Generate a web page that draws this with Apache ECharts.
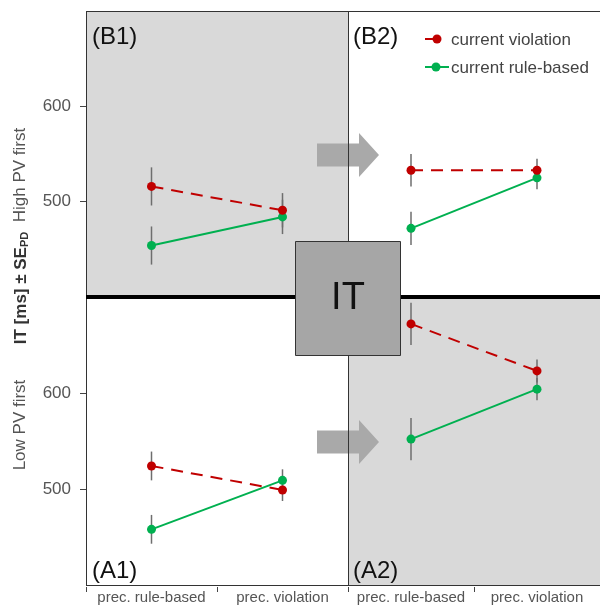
<!DOCTYPE html>
<html>
<head>
<meta charset="utf-8">
<script src="https://cdn.jsdelivr.net/npm/echarts@6/dist/echarts.min.js"></script>
<style>
  html, body { margin: 0; padding: 0; background: #fff; }
  #chart { width: 600px; height: 613px; }
</style>
</head>
<body>
<div id="chart"></div>
<script>
// Categories and labels
const categories = ['prec. rule-based', 'prec. violation'];
const seriesNames = ['current violation', 'current rule-based'];
const panelNames = ['(B1)', '(B2)', '(A1)', '(A2)'];
const rowNames = ['High PV first', 'Low PV first'];
const yTickValues = [500, 600];

// Mean IT [ms] per panel: B1 (top left), B2 (top right), A1 (bottom left), A2 (bottom right)
const violationB1 = [516, 491];
const violationB2 = [533, 533];
const violationA1 = [524, 499];
const violationA2 = [672, 623];
const ruleB1 = [454, 484];
const ruleB2 = [472, 525];
const ruleA1 = [458, 509];
const ruleA2 = [552, 604];

// Standard errors (paired differences)
const violationSeB1 = [20, 18];
const violationSeB2 = [17, 12];
const violationSeA1 = [15, 11.5];
const violationSeA2 = [22, 12];
const ruleSeB1 = [20, 18];
const ruleSeB2 = [17.5, 12];
const ruleSeA1 = [15, 11.5];
const ruleSeA2 = [22, 11.5];

const RED = '#c00000';
const GREEN = '#00b050';
const FONT = '"Liberation Sans", Arial, Helvetica, sans-serif';

const panels = [
  { viol: violationB1, rule: ruleB1, vSe: violationSeB1, rSe: ruleSeB1 },
  { viol: violationB2, rule: ruleB2, vSe: violationSeB2, rSe: ruleSeB2 },
  { viol: violationA1, rule: ruleA1, vSe: violationSeA1, rSe: ruleSeA1 },
  { viol: violationA2, rule: ruleA2, vSe: violationSeA2, rSe: ruleSeA2 }
];

// Panel layout
const L = 86, MID = 348, PW = 262, TOP = 11, HMID = 297, BOT = 585;
const grids = [
  { left: L,   top: TOP,  width: PW, height: HMID - TOP, bg: '#d9d9d9' },
  { left: MID, top: TOP,  width: PW, height: HMID - TOP, bg: '#ffffff' },
  { left: L,   top: HMID, width: PW, height: BOT - HMID, bg: '#ffffff' },
  { left: MID, top: HMID, width: PW, height: BOT - HMID, bg: '#d9d9d9' }
];

const grid = grids.map(g => ({
  left: g.left, top: g.top, width: g.width, height: g.height,
  show: true, backgroundColor: g.bg, borderWidth: 0, containLabel: false
}));

const xAxis = grids.map((g, i) => ({
  type: 'category', gridIndex: i, data: categories, boundaryGap: true,
  offset: i >= 2 ? 2 : 0,
  axisLine: { show: false },
  axisTick: { show: i >= 2, length: 5, lineStyle: { color: '#444', width: 1 } },
  axisLabel: { show: i >= 2, color: '#555', fontSize: 15, fontFamily: FONT, margin: 3, interval: 0 },
  splitLine: { show: false }
}));

const yAxis = grids.map((g, i) => ({
  type: 'value', gridIndex: i, min: 400, max: 700, interval: 100,
  axisLine: { show: false },
  axisTick: { show: i % 2 === 0, length: 6, customValues: yTickValues, lineStyle: { color: '#444' } },
  axisLabel: { show: i % 2 === 0, customValues: yTickValues, color: '#555', fontSize: 17, fontFamily: FONT, margin: 15 },
  splitLine: { show: false }
}));

function errorBars(gi, means, ses) {
  return {
    type: 'custom', xAxisIndex: gi, yAxisIndex: gi, z: 1, silent: true,
    data: means.map((m, k) => [k, m - ses[k], m + ses[k]]),
    encode: { x: 0, y: [1, 2] },
    renderItem(params, api) {
      const lo = api.coord([api.value(0), api.value(1)]);
      const hi = api.coord([api.value(0), api.value(2)]);
      return {
        type: 'line',
        shape: { x1: lo[0], y1: lo[1], x2: hi[0], y2: hi[1] },
        style: { stroke: '#6e6e6e', lineWidth: 1.5 }
      };
    }
  };
}

const series = [];
panels.forEach((p, gi) => {
  series.push(errorBars(gi, p.rule, p.rSe));
  series.push(errorBars(gi, p.viol, p.vSe));
  series.push({
    name: seriesNames[1], type: 'line', xAxisIndex: gi, yAxisIndex: gi, z: 3,
    data: p.rule, symbol: 'circle', symbolSize: 9, showSymbol: true,
    itemStyle: { color: GREEN }, lineStyle: { color: GREEN, width: 2 }
  });
  series.push({
    name: seriesNames[0], type: 'line', xAxisIndex: gi, yAxisIndex: gi, z: 4,
    data: p.viol, symbol: 'circle', symbolSize: 9, showSymbol: true,
    itemStyle: { color: RED }, lineStyle: { color: RED, width: 2, type: [12, 8] }
  });
});

// Block arrows pointing from the left column to the right column
function arrow(cy) {
  const x0 = 317, xn = 359, xt = 379, bh = 11.5, hh = 22;
  return {
    type: 'polygon', z: 50, silent: true,
    shape: { points: [[x0, cy - bh], [xn, cy - bh], [xn, cy - hh], [xt, cy], [xn, cy + hh], [xn, cy + bh], [x0, cy + bh]] },
    style: { fill: '#a9a9a9' }
  };
}

function hline(x1, x2, y, w, c, z) {
  return { type: 'line', z, silent: true, shape: { x1, y1: y, x2, y2: y }, style: { stroke: c, lineWidth: w } };
}
function vline(x, y1, y2, w, c, z) {
  return { type: 'line', z, silent: true, shape: { x1: x, y1, x2: x, y2 }, style: { stroke: c, lineWidth: w } };
}

const labelPos = [[92, 37], [353, 37], [92, 571], [353, 571]];

const graphic = [
  arrow(155),
  arrow(442),
  hline(L, 600, TOP + 0.5, 1, '#333', 60),
  hline(L, 600, BOT + 0.5, 1, '#333', 60),
  vline(L + 0.5, TOP, BOT, 1, '#333', 60),
  vline(MID + 0.5, TOP, BOT, 1, '#333', 60),
  hline(L, 600, HMID, 4, '#000', 70),
  {
    type: 'rect', z: 80, silent: true,
    shape: { x: 295.5, y: 241.5, width: 105, height: 114 },
    style: { fill: '#a6a6a6', stroke: '#333', lineWidth: 1 }
  },
  {
    type: 'text', z: 81, silent: true, x: 348, y: 299,
    style: { text: 'IT', fill: '#111', font: '38px ' + FONT, textAlign: 'center', textVerticalAlign: 'middle' }
  },
  ...panelNames.map((t, i) => ({
    type: 'text', z: 90, silent: true, x: labelPos[i][0], y: labelPos[i][1],
    style: { text: t, fill: '#111', font: '24px ' + FONT, textAlign: 'left', textVerticalAlign: 'middle' }
  })),
  // legend
  hline(425, 440, 39, 2, RED, 90),
  { type: 'circle', z: 91, silent: true, shape: { cx: 437, cy: 39, r: 4.5 }, style: { fill: RED } },
  {
    type: 'text', z: 90, silent: true, x: 451, y: 40,
    style: { text: seriesNames[0], fill: '#444', font: '17px ' + FONT, textAlign: 'left', textVerticalAlign: 'middle' }
  },
  hline(425, 449, 67, 2, GREEN, 90),
  { type: 'circle', z: 91, silent: true, shape: { cx: 436, cy: 67, r: 4.5 }, style: { fill: GREEN } },
  {
    type: 'text', z: 90, silent: true, x: 451, y: 68,
    style: { text: seriesNames[1], fill: '#444', font: '17px ' + FONT, textAlign: 'left', textVerticalAlign: 'middle' }
  },
  // vertical axis titles
  {
    type: 'text', z: 90, silent: true, x: 20, y: 175, rotation: Math.PI / 2,
    style: { text: rowNames[0], fill: '#555', font: '17px ' + FONT, textAlign: 'center', textVerticalAlign: 'middle' }
  },
  {
    type: 'text', z: 90, silent: true, x: 20, y: 425, rotation: Math.PI / 2,
    style: { text: rowNames[1], fill: '#555', font: '17px ' + FONT, textAlign: 'center', textVerticalAlign: 'middle' }
  },
  {
    type: 'text', z: 90, silent: true, x: 20, y: 288, rotation: Math.PI / 2,
    style: {
      text: '{b|IT [ms] ± SE}{s|PD}',
      textAlign: 'center', textVerticalAlign: 'middle',
      rich: {
        b: { fontFamily: FONT, fontSize: 17, fontWeight: 'bold', fill: '#333', lineHeight: 20, verticalAlign: 'bottom' },
        s: { fontFamily: FONT, fontSize: 11, fontWeight: 'bold', fill: '#333', lineHeight: 16, verticalAlign: 'bottom' }
      }
    }
  }
];

const chart = echarts.init(document.getElementById('chart'), null, { renderer: 'canvas' });
chart.setOption({
  animation: false,
  backgroundColor: '#ffffff',
  textStyle: { fontFamily: FONT },
  grid, xAxis, yAxis, series, graphic
});
</script>
</body>
</html>
